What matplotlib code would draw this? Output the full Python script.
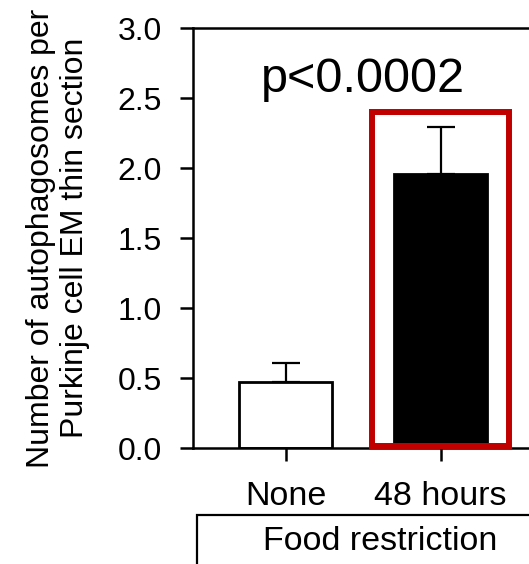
import numpy as np
import matplotlib.pyplot as plt
from matplotlib.patches import Rectangle

plt.rcParams['font.family'] = ['Liberation Sans', 'DejaVu Sans']

# datos
groups = ['None', '48 hours']
means = [0.47, 1.96]
errors = [0.14, 0.33]
yticks = [0.0, 0.5, 1.0, 1.5, 2.0, 2.5, 3.0]

fig = plt.figure(figsize=(5.29, 5.64), dpi=100)
fig.patch.set_facecolor('white')

# ejes: el lado derecho queda fuera de la figura, como en la original
ax = fig.add_axes([193 / 529, 116 / 564, 340.5 / 529, 420 / 564])

x = np.arange(len(groups))
ax.bar(x, means, width=0.6, color=['white', 'black'], edgecolor='black',
       linewidth=2, zorder=2)
ax.errorbar(x, means, yerr=[np.zeros(len(errors)), errors], fmt='none',
            ecolor='black', elinewidth=1.6, capsize=10, capthick=1.6, zorder=1)

ax.set_xlim(-0.597, 1.6)
ax.set_ylim(0, 3.0)
ax.set_xticks(x)
ax.set_xticklabels(groups, fontsize=24.5)
ax.set_yticks(yticks)
ax.set_yticklabels([f'{v:.1f}' for v in yticks], fontsize=23)
ax.tick_params(axis='both', direction='out', length=9.5, width=1.8)
ax.tick_params(axis='y', pad=13)
ax.tick_params(axis='x', pad=14)

for s in ax.spines.values():
    s.set_linewidth(1.8)

ax.set_ylabel('Number of autophagosomes per\nPurkinje cell EM thin section',
              fontsize=23, labelpad=20, linespacing=1.15)

ax.text(0.5, 2.63, 'p<0.0002', fontsize=35, ha='center', va='center')

# recuadro rojo alrededor de la barra de 48 horas
ax.add_patch(Rectangle((1 - 0.445, 0.015), 0.89, 2.385, fill=False,
                       edgecolor='#c00000', linewidth=4.3, zorder=5,
                       clip_on=False))

# caja "Food restriction"
fig.patches.append(Rectangle((197 / 529, -0.05), 0.7, (564 - 515) / 564 + 0.05,
                             transform=fig.transFigure, fill=False,
                             edgecolor='black', linewidth=1.6))
fig.text(380 / 529, (564 - 542) / 564, 'Food restriction', fontsize=24.5,
         ha='center', va='center')

fig.savefig('out.png', dpi=100)
